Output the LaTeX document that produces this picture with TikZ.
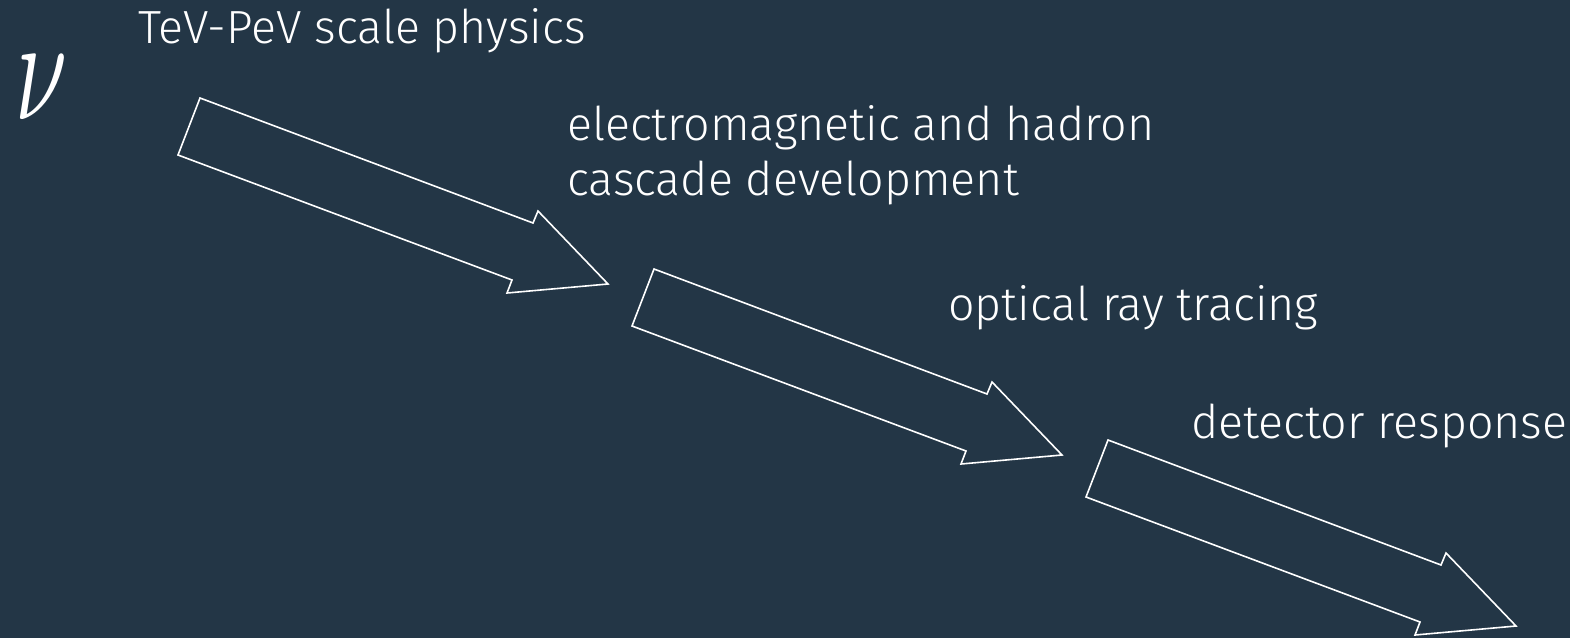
\documentclass[tikz,border=0pt]{standalone}
\usepackage{fontspec}
\setmainfont{Fira Sans}[UprightFont=* Light]
\definecolor{bg}{HTML}{233646}
\begin{document}
\begin{tikzpicture}[x=1pt,y=-1pt,
  lbl/.style={text=white,inner sep=0pt,anchor=base west,align=left,
    font=\fontsize{46.5}{55}\selectfont},
  fatarrow/.style={draw=white,line width=1.6pt,line join=miter}]
\fill[bg] (0,0) rectangle (1570,638);
\useasboundingbox (0,0) rectangle (1570,638);
\node[text=white,inner sep=0pt,anchor=north west] (nu) at (15,55)
  {\resizebox{52pt}{64pt}{$\nu$}};
\node[lbl] (phys) at (138,43) {TeV-PeV scale physics};
\node[lbl] (casc) at (567,195) {electromagnetic and hadron\\cascade development};
\node[lbl] (ray) at (948,320) {optical ray tracing};
\node[lbl] (det) at (1191,438) {detector response};
\foreach \dx/\dy in {0/0,454/171,908/342}{
  \draw[fatarrow,shift={(\dx,\dy)}]
    (200,98) -- (533,223) -- (538,211) -- (608,284) -- (507,293) -- (512,280) -- (178,155) -- cycle;
}
\end{tikzpicture}
\end{document}
